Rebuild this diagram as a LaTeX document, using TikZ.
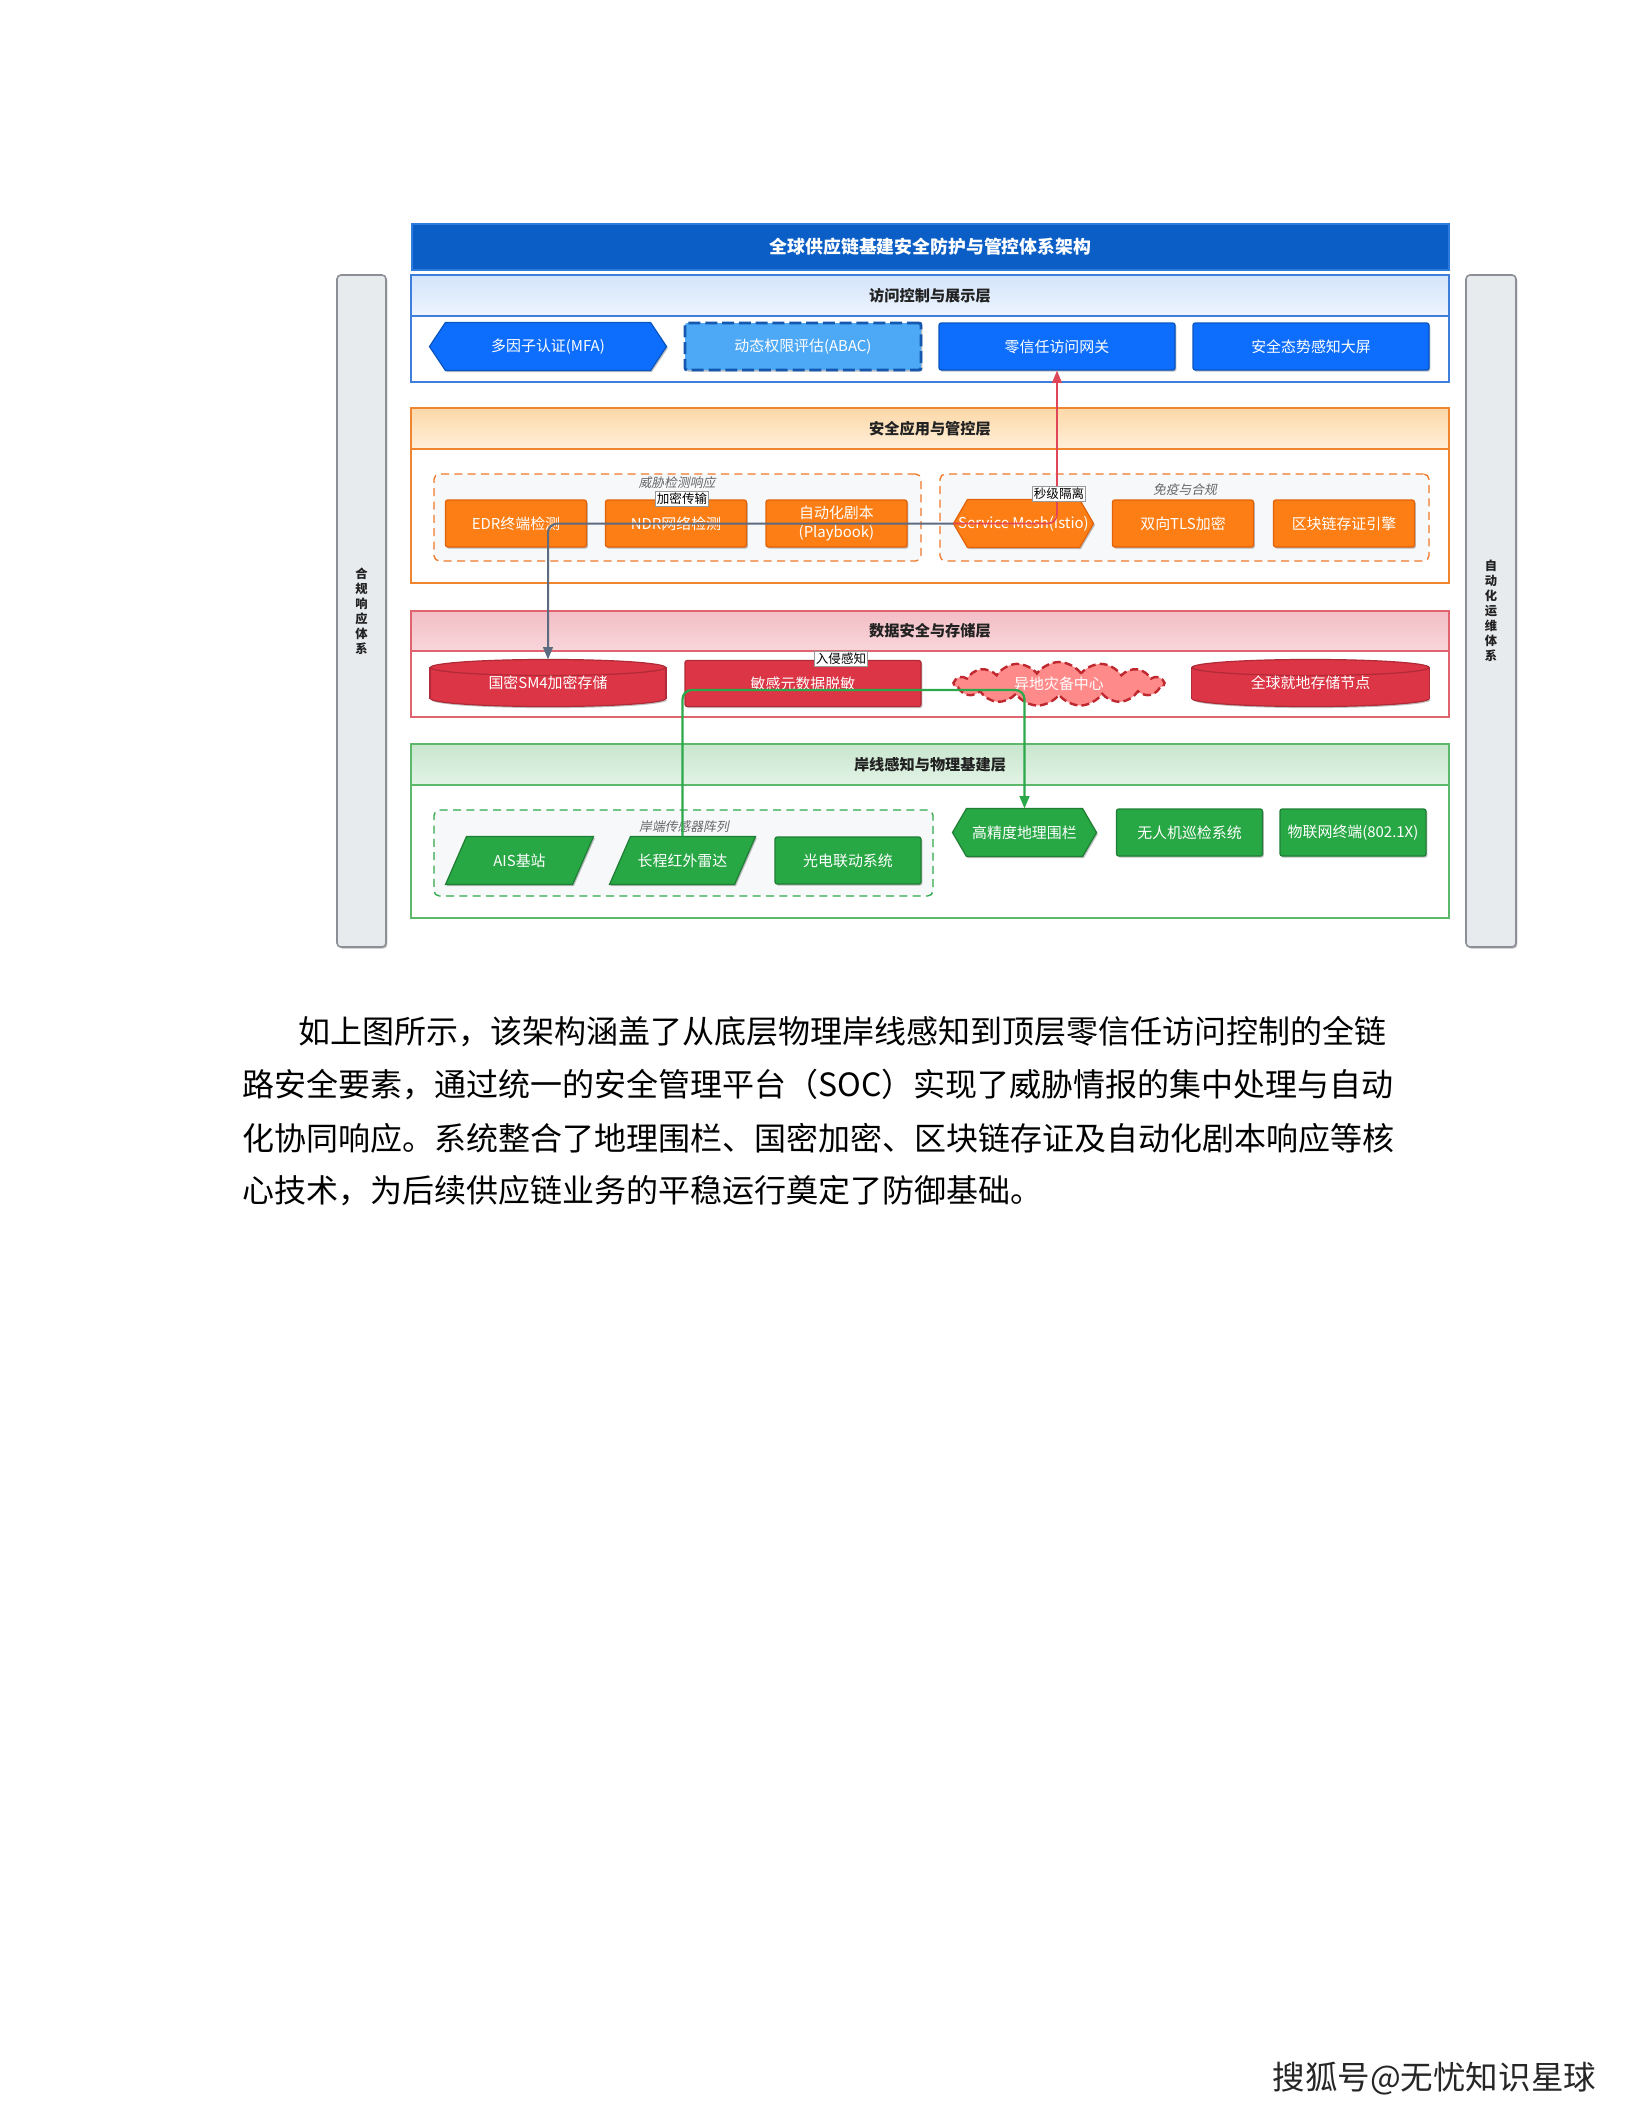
\documentclass[tikz,border=0pt]{standalone}
\usepackage{fontspec}
\setmainfont{Noto Sans CJK SC}
\newfontfamily\slantcjk{Noto Sans CJK SC}[FakeSlant=0.2]
\usetikzlibrary{shapes.geometric,shapes.symbols,shadows,arrows.meta,calc}
\pgfdeclarelayer{bg}
\pgfdeclarelayer{shp}
\pgfsetlayers{bg,shp,main}
\newcommand\pxu{0.375pt}

\definecolor{titleblue}{HTML}{0B5EC5}
\definecolor{titleborder}{HTML}{2E7BE0}
\definecolor{nblue}{HTML}{0D6EFD}
\definecolor{nbluedk}{HTML}{0A55C0}
\definecolor{abacfill}{HTML}{4DA8F6}
\definecolor{abacdk}{HTML}{1558B0}
\definecolor{accline}{HTML}{3F7FDB}
\definecolor{acch1}{HTML}{D3E4FB}
\definecolor{acch2}{HTML}{EEF5FE}
\definecolor{norange}{HTML}{FD7E14}
\definecolor{norangedk}{HTML}{E2620A}
\definecolor{orgline}{HTML}{F0852F}
\definecolor{orgh1}{HTML}{FCD8A8}
\definecolor{orgh2}{HTML}{FFEFD9}
\definecolor{nred}{HTML}{DC3545}
\definecolor{nreddk}{HTML}{B02A37}
\definecolor{redline}{HTML}{E06470}
\definecolor{redh1}{HTML}{F3BEC5}
\definecolor{redh2}{HTML}{F8D6DA}
\definecolor{cloudfill}{HTML}{FF8A8A}
\definecolor{clouddk}{HTML}{C0282F}
\definecolor{ngreen}{HTML}{28A745}
\definecolor{ngreendk}{HTML}{1E7E34}
\definecolor{grnline}{HTML}{5DB86B}
\definecolor{grnh1}{HTML}{C8E6CE}
\definecolor{grnh2}{HTML}{E3F3E6}
\definecolor{grpfill}{HTML}{F7F8FA}
\definecolor{grporange}{HTML}{F07828}
\definecolor{grpgreen}{HTML}{2EA84A}
\definecolor{sidefill}{HTML}{E8EBEE}
\definecolor{sideline}{HTML}{8C9096}
\definecolor{grayedge}{HTML}{5C6B80}
\definecolor{rededge}{HTML}{E04558}
\definecolor{greenedge}{HTML}{2BA84A}
\definecolor{glabel}{HTML}{666666}
\definecolor{headtxt}{HTML}{222222}

\tikzset{
  shd/.style={drop shadow={shadow xshift=0.5pt,shadow yshift=-0.6pt,opacity=0.25,fill=black}},
  ntext/.style={font=\fontsize{5.6}{6.8}\selectfont, text=white, align=center, inner sep=0pt},
  box/.style={ntext, rectangle, rounded corners=0.8pt, line width=0.45pt, shd, minimum height=47*\pxu},
  bbox/.style={box, fill=nblue, draw=nbluedk, minimum width=236*\pxu},
  obox/.style={box, fill=norange, draw=norangedk, minimum width=141*\pxu},
  rbox/.style={box, fill=nred, draw=nreddk, minimum width=236*\pxu, minimum height=46*\pxu},
  gbox/.style={box, fill=ngreen, draw=ngreendk, minimum width=146*\pxu},
  holder/.style={ntext, rectangle, minimum width=#1*\pxu, minimum height=47*\pxu},
  layer/.style={rectangle, fill=white, line width=0.6pt, inner sep=0pt},
  lhead/.style={rectangle, line width=0.6pt, inner sep=0pt, text=headtxt,
    font=\bfseries\fontsize{5.7}{6.8}\selectfont, minimum width=1038*\pxu, minimum height=41*\pxu},
  grp/.style={rectangle, rounded corners=2pt, fill=grpfill, dash pattern=on 3pt off 2pt, line width=0.5pt, inner sep=0pt},
  glab/.style={font=\slantcjk\fontsize{4.8}{5.6}\selectfont, text=glabel, inner sep=0pt},
  elabel/.style={fill=white, draw=gray!80, line width=0.3pt, inner sep=0.6pt, text=black,
    font=\fontsize{4.7}{5.4}\selectfont},
  sidebar/.style={rectangle, rounded corners=1.5pt, fill=sidefill, draw=sideline, line width=0.6pt, shd,
    align=center, text=headtxt, font=\bfseries\fontsize{4.6}{5.6}\selectfont, inner sep=0pt},
  edgeg/.style={draw=grayedge, line width=0.75pt, rounded corners=3.5pt, -{Triangle[length=4.6pt,width=3.6pt]}},
  edger/.style={draw=rededge, line width=0.6pt, rounded corners=3.5pt, -{Triangle[length=4.6pt,width=3.6pt]}},
  edgegr/.style={draw=greenedge, line width=0.85pt, rounded corners=3.5pt, -{Triangle[length=4.6pt,width=3.6pt]}},
  para/.style={font=\fontsize{12}{14}\selectfont, text=black, inner sep=0pt, anchor=base west},
}

\newcommand\hexshape[4]{\path[fill=#2,draw=#3,line width=0.45pt,shd] (#1.west) -- ($(#1.north west)+(#4,0)$) -- ($(#1.north east)+(-#4,0)$) -- (#1.east) -- ($(#1.south east)+(-#4,0)$) -- ($(#1.south west)+(#4,0)$) -- cycle;}
\newcommand\parashape[4]{\path[fill=#2,draw=#3,line width=0.45pt,shd] ($(#1.north west)+(#4,0)$) -- (#1.north east) -- ($(#1.south east)+(-#4,0)$) -- (#1.south west) -- cycle;}
\newcommand\cylshape[4]{%
  \path[fill=#2,draw=#3,line width=0.45pt,shd] ($(#1.south)+(0,-8)$) ellipse [x radius=#4, y radius=8];
  \fill[#2] ($(#1.north west)+(0,8)$) rectangle ($(#1.south east)+(0,-8)$);
  \draw[#3,line width=0.45pt] ($(#1.north west)+(0,8)$) -- ($(#1.south west)+(0,-8)$) ($(#1.north east)+(0,8)$) -- ($(#1.south east)+(0,-8)$);
  \path[fill=#2,draw=#3,line width=0.45pt] ($(#1.north)+(0,8)$) ellipse [x radius=#4, y radius=8];}

\begin{document}
\begin{tikzpicture}[x=0.375pt,y=-0.375pt]
\begin{pgfonlayer}{bg}
  \fill[white] (0,0) rectangle (1632,2112);
  \useasboundingbox (0,0) rectangle (1632,2112);
  % side bars
  \node[sidebar, minimum width=49*\pxu, minimum height=672*\pxu] (lbar) at (361.5,611) {合\\规\\响\\应\\体\\系};
  \node[sidebar, minimum width=50*\pxu, minimum height=672*\pxu] (rbar) at (1491,611) {自\\动\\化\\运\\维\\体\\系};
  % title
  \node[rectangle, fill=titleblue, draw=titleborder, line width=0.5pt, text=white, inner sep=0pt,
        font=\bfseries\fontsize{6.7}{8}\selectfont, minimum width=1037*\pxu, minimum height=46*\pxu] (title) at (930.5,247) {全球供应链基建安全防护与管控体系架构};
  % layers
  \node[layer, draw=accline, minimum width=1038*\pxu, minimum height=107*\pxu] (L1) at (930,328.5) {};
  \node[lhead, draw=accline, top color=acch1, bottom color=acch2, anchor=north] (L1h) at (L1.north) {访问控制与展示层};
  \node[layer, draw=orgline, minimum width=1038*\pxu, minimum height=175*\pxu] (L2) at (930,495.5) {};
  \node[lhead, draw=orgline, top color=orgh1, bottom color=orgh2, anchor=north] (L2h) at (L2.north) {安全应用与管控层};
  \node[layer, draw=redline, minimum width=1038*\pxu, minimum height=106*\pxu] (L3) at (930,664) {};
  \node[lhead, draw=redline, top color=redh1, bottom color=redh2, anchor=north, minimum height=40*\pxu] (L3h) at (L3.north) {数据安全与存储层};
  \node[layer, draw=grnline, minimum width=1038*\pxu, minimum height=174*\pxu] (L4) at (930,831) {};
  \node[lhead, draw=grnline, top color=grnh1, bottom color=grnh2, anchor=north] (L4h) at (L4.north) {岸线感知与物理基建层};
  % groups
  \node[grp, draw=grporange, minimum width=487*\pxu, minimum height=87*\pxu] (og1) at (677.5,517.5) {};
  \node[grp, draw=grporange, minimum width=489*\pxu, minimum height=87*\pxu] (og2) at (1184.5,517.5) {};
  \node[grp, draw=grpgreen, minimum width=499*\pxu, minimum height=86*\pxu] (gg1) at (683.5,853) {};
  \node[glab] (og1l) at (677,483) {威胁检测响应};
  \node[glab] (og2l) at (1185,490) {免疫与合规};
  \node[glab] (gg1l) at (684,827) {岸端传感器阵列};
\end{pgfonlayer}

% access layer nodes
\node[holder=236] (mfa) at (548,346.5) {多因子认证(MFA)};
\node[box, fill=abacfill, draw=abacdk, line width=1.1pt, dash pattern=on 4.5pt off 1.8pt, minimum width=236*\pxu] (abac) at (803,346.5) {动态权限评估(ABAC)};
\node[bbox] (zt) at (1057,346.5) {零信任访问网关};
\node[bbox] (sit) at (1311,346.5) {安全态势感知大屏};

% security application layer nodes
\node[obox] (edr) at (516,523.5) {EDR终端检测};
\node[obox] (ndr) at (676,523.5) {NDR网络检测};
\node[obox] (pb) at (836.5,523.5) {自动化剧本\\(Playbook)};
\node[holder=139] (sm) at (1023.5,523.5) {Service Mesh(Istio)};
\node[obox] (tls) at (1183,523.5) {双向TLS加密};
\node[obox] (bc) at (1344,523.5) {区块链存证引擎};

% data layer nodes
\node[holder=235, minimum height=46*\pxu] (sm4) at (548,683) {国密SM4加密存储};
\node[rbox] (mask) at (803,683.5) {敏感元数据脱敏};
\node[cloud, cloud puffs=15, cloud puff arc=110, aspect=4.8, minimum width=210*\pxu, minimum height=44*\pxu,
      fill=cloudfill, draw=clouddk, dash pattern=on 3pt off 1.5pt, line width=0.9pt, ntext] (dr) at (1059,684) {异地灾备中心};
\node[holder=237, minimum height=46*\pxu] (gs) at (1310.5,683) {全球就地存储节点};

% physical layer nodes
\node[holder=147] (ais) at (519.5,860.5) {AIS基站};
\node[holder=145] (radar) at (682.5,860.5) {长程红外雷达};
\node[gbox] (eo) at (848,860.5) {光电联动系统};
\node[holder=143] (geo) at (1024.5,832.5) {高精度地理围栏};
\node[gbox] (uav) at (1189.5,832.5) {无人机巡检系统};
\node[gbox] (iot) at (1353,832.5) {物联网终端(802.1X)};

\begin{pgfonlayer}{shp}
  \hexshape{mfa}{nblue}{nbluedk}{16}
  \hexshape{sm}{norange}{norangedk}{14}
  \hexshape{geo}{ngreen}{ngreendk}{14}
  \parashape{ais}{ngreen}{ngreendk}{21}
  \parashape{radar}{ngreen}{ngreendk}{21}
  \cylshape{sm4}{nred}{nreddk}{117.5}
  \cylshape{gs}{nred}{nreddk}{118.5}
\end{pgfonlayer}

% connectors
\coordinate (gbend) at (0,690);
\draw[edgeg] (sm.west) -- (sm4.north |- sm.west) -- (sm4.north);
\draw[edger] (sm.west) -- (zt.south |- sm.west) -- (zt.south);
\draw[edgegr] (radar.north) -- (radar.north |- gbend) -- (geo.north |- gbend) -- (geo.north);
\node[elabel] (lb1) at (682,499) {加密传输};
\node[elabel] (lb2) at (1059,494) {秒级隔离};
\node[elabel] (lb3) at (841,659) {入侵感知};

% paragraph
\node[para] (p1) at (298,1043) {如上图所示，该架构涵盖了从底层物理岸线感知到顶层零信任访问控制的全链};
\node[para] (p2) at (242,1096) {路安全要素，通过统一的安全管理平台（SOC）实现了威胁情报的集中处理与自动};
\node[para] (p3) at (242,1150) {化协同响应。系统整合了地理围栏、国密加密、区块链存证及自动化剧本响应等核};
\node[para] (p4) at (242,1202) {心技术，为后续供应链业务的平稳运行奠定了防御基础。};

% footer
\node[font=\fontsize{12.2}{14}\selectfont, text=black!85, inner sep=0pt, anchor=base west] (foot) at (1272,2089) {搜狐号@无忧知识星球};
\end{tikzpicture}
\end{document}
